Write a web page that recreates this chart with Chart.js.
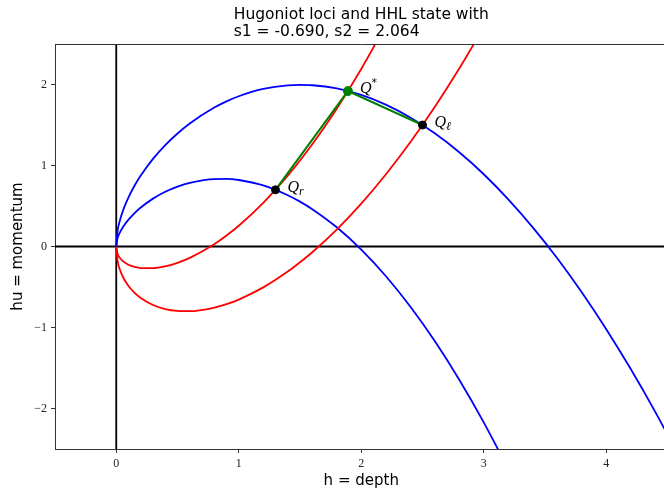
<!DOCTYPE html>
<html>
<head>
<meta charset="utf-8">
<script src="https://cdn.jsdelivr.net/npm/chart.js@4.4.1/dist/chart.umd.min.js"></script>
<style>
  html, body { margin: 0; padding: 0; background: #fff; overflow: hidden; }
</style>
</head>
<body>
<canvas id="chart" width="673" height="489"></canvas>
<script>
const hGrid = [0, 0.01, 0.03, 0.06, 0.1, 0.15, 0.2, 0.3, 0.4, 0.5, 0.6, 0.8, 0.9, 1.0, 1.2, 1.4, 1.5, 1.6,
  1.8, 2.0, 2.2, 2.4, 2.6, 2.8, 3.0, 3.2, 3.4, 3.6, 3.8, 4.0, 4.2, 4.4, 4.6];

// curves through Q_l
const huBlueL = [0, 0.182, 0.322, 0.464, 0.607, 0.753, 0.876, 1.082, 1.252, 1.395, 1.519, 1.715, 1.792, 1.855,
  1.945, 1.990, 1.995, 1.991, 1.951, 1.871, 1.751, 1.593, 1.397, 1.163, 0.892, 0.583, 0.237, -0.145, -0.565,
  -1.021, -1.513, -2.042, -2.607];
const huRedL = [0, -0.170, -0.286, -0.392, -0.487, -0.573, -0.636, -0.722, -0.772, -0.795, -0.799, -0.755, -0.712,
  -0.655, -0.505, -0.310, -0.195, -0.071, 0.209, 0.529, 0.889, 1.287, 1.723, 2.197, 2.708];

// curves through Q_r
const huBlueR = [0, 0.097, 0.174, 0.252, 0.332, 0.413, 0.481, 0.591, 0.676, 0.740, 0.787, 0.833, 0.834, 0.821,
  0.754, 0.633, 0.554, 0.461, 0.237, -0.038, -0.364, -0.741, -1.167, -1.644, -2.171, -2.748];
const huRedR = [0, -0.086, -0.141, -0.187, -0.225, -0.252, -0.266, -0.268, -0.245, -0.201, -0.140, 0.029, 0.136,
  0.256, 0.539, 0.874, 1.062, 1.262, 1.702, 2.192, 2.733];

// states: Q_r, Q*, Q_l
const qH = [1.3, 1.891, 2.5];
const qHu = [0.7, 1.919, 1.5];
const qSub = ['r', '*', 'ℓ'];

const xTicks = [0, 1, 2, 3, 4];
const yTicks = [-2, -1, 0, 1, 2];
const titleLines = ['Hugoniot loci and HHL state with', 's1 = -0.690, s2 = 2.064'];

const pts = (ys) => ys.map((v, i) => ({ x: hGrid[i], y: v }));
const fmt = (v) => String(v).replace('-', '\u2212');

const curve = (data, color) => ({
  data: data,
  showLine: true,
  borderColor: color,
  borderWidth: 1.8,
  pointRadius: 0,
  cubicInterpolationMode: 'monotone',
  order: 5
});

const overlay = {
  id: 'overlay',
  beforeDatasetsDraw(chart) {
    const { ctx, chartArea: a, scales: { x, y } } = chart;
    const x0 = x.getPixelForValue(0);
    const y0 = y.getPixelForValue(0);
    ctx.save();
    ctx.strokeStyle = '#000';
    ctx.lineWidth = 1.8;
    ctx.beginPath();
    ctx.moveTo(x0, a.top); ctx.lineTo(x0, a.bottom);
    ctx.moveTo(a.left, y0); ctx.lineTo(a.right, y0);
    ctx.stroke();
    ctx.restore();
  },
  afterDatasetsDraw(chart) {
    const { ctx, scales: { x, y } } = chart;
    ctx.save();
    ctx.fillStyle = '#000';
    ctx.textBaseline = 'alphabetic';
    qH.forEach((h, i) => {
      const px = x.getPixelForValue(h) + 12;
      const py = y.getPixelForValue(qHu[i]) + 2;
      ctx.font = 'italic 16px "Liberation Serif"';
      ctx.fillText('Q', px, py);
      const w = ctx.measureText('Q').width;
      if (qSub[i] === '*') {
        ctx.font = '11px "DejaVu Sans"';
        ctx.fillText('*', px + w, py - 7);
      } else {
        ctx.font = 'italic 12px "Liberation Serif"';
        ctx.fillText(qSub[i], px + w, py + 3);
      }
    });
    ctx.restore();
  },
  afterDraw(chart) {
    const { ctx, chartArea: a } = chart;
    ctx.save();
    ctx.strokeStyle = '#333';
    ctx.lineWidth = 1;
    ctx.beginPath();
    ctx.moveTo(a.left, a.top + 0.5); ctx.lineTo(a.right, a.top + 0.5);
    ctx.moveTo(a.right - 0.5, a.top); ctx.lineTo(a.right - 0.5, a.bottom);
    ctx.stroke();

    // two-line title, lines left-aligned, block centred over the plot
    ctx.fillStyle = '#000';
    ctx.font = '15.5px "DejaVu Sans"';
    ctx.textBaseline = 'alphabetic';
    ctx.textAlign = 'left';
    const w1 = ctx.measureText(titleLines[0]).width;
    const tx = (a.left + a.right) / 2 - w1 / 2;
    ctx.fillText(titleLines[0], tx, 19);
    ctx.fillText(titleLines[1], tx, 36);
    ctx.restore();
  }
};

new Chart(document.getElementById('chart'), {
  type: 'scatter',
  data: {
    datasets: [
      {
        data: [{ x: qH[1], y: qHu[1] }],
        pointRadius: 4.5, pointBackgroundColor: '#008000', pointBorderColor: '#008000', order: 0
      },
      {
        data: [{ x: qH[0], y: qHu[0] }, { x: qH[2], y: qHu[2] }],
        pointRadius: 4, pointBackgroundColor: '#000', pointBorderColor: '#000', order: 1
      },
      {
        data: qH.map((h, i) => ({ x: h, y: qHu[i] })),
        showLine: true, borderColor: '#008000', borderWidth: 2, pointRadius: 0, order: 2
      },
      curve(pts(huBlueL), '#0000ff'),
      curve(pts(huRedL), '#ff0000'),
      curve(pts(huBlueR), '#0000ff'),
      curve(pts(huRedR), '#ff0000')
    ]
  },
  options: {
    responsive: false,
    animation: false,
    events: [],
    layout: { padding: { left: 0, right: 1, top: 44, bottom: 0 } },
    plugins: {
      legend: { display: false },
      tooltip: { enabled: false },
      title: { display: false }
    },
    scales: {
      x: {
        type: 'linear',
        min: -0.5,
        max: 4.5,
        afterBuildTicks: (s) => { s.ticks = xTicks.map(v => ({ value: v })); },
        afterFit: (s) => { s.height = 40; s.paddingLeft = 0; s.paddingRight = 0; },
        grid: { drawOnChartArea: false, drawTicks: true, tickLength: 4, color: '#333' },
        border: { color: '#333', width: 1 },
        ticks: {
          color: '#222', padding: 4, maxRotation: 0,
          font: { family: '"Liberation Serif"', size: 12 },
          callback: (v) => fmt(v)
        },
        title: {
          display: true, text: 'h = depth', color: '#000',
          font: { family: '"DejaVu Sans"', size: 15, lineHeight: 1 },
          padding: { top: 0, bottom: 0 }
        }
      },
      y: {
        type: 'linear',
        min: -2.5,
        max: 2.5,
        afterBuildTicks: (s) => { s.ticks = yTicks.map(v => ({ value: v })); },
        afterFit: (s) => { s.width = 55; s.paddingTop = 0; s.paddingBottom = 0; },
        grid: { drawOnChartArea: false, drawTicks: true, tickLength: 4, color: '#333' },
        border: { color: '#333', width: 1 },
        ticks: {
          color: '#222', padding: 4,
          font: { family: '"Liberation Serif"', size: 12 },
          callback: (v) => fmt(v)
        },
        title: {
          display: true, text: 'hu = momentum', color: '#000',
          font: { family: '"DejaVu Sans"', size: 15, lineHeight: 1 },
          padding: { top: 11, bottom: 0 }
        }
      }
    }
  },
  plugins: [overlay]
});
</script>
</body>
</html>
